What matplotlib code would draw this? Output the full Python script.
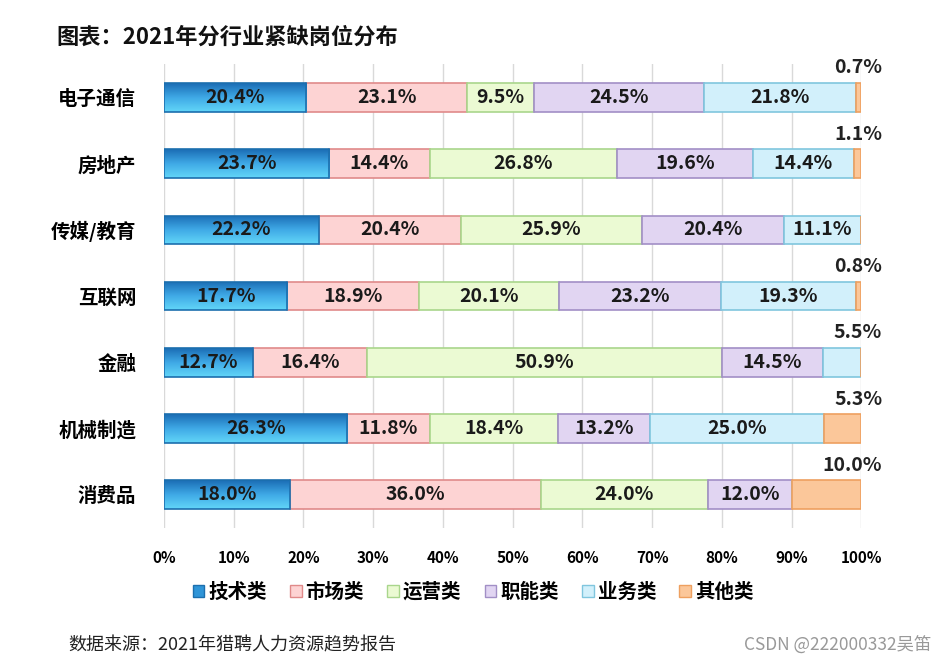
import numpy as np
import matplotlib.pyplot as plt
from matplotlib.patches import Patch
from matplotlib.colors import LinearSegmentedColormap

plt.rcParams['font.family'] = ['Noto Sans CJK SC', 'DejaVu Sans']

industries = ['电子通信', '房地产', '传媒/教育', '互联网', '金融', '机械制造', '消费品']
categories = ['技术类', '市场类', '运营类', '职能类', '业务类', '其他类']
tech = [20.4, 23.7, 22.2, 17.7, 12.7, 26.3, 18.0]
market = [23.1, 14.4, 20.4, 18.9, 16.4, 11.8, 36.0]
ops = [9.5, 26.8, 25.9, 20.1, 50.9, 18.4, 24.0]
func = [24.5, 19.6, 20.4, 23.2, 14.5, 13.2, 12.0]
business = [21.8, 14.4, 11.1, 19.3, 5.5, 25.0, 0.0]
other = [0.7, 1.1, 0.0, 0.8, 0.0, 5.3, 10.0]

series = [tech, market, ops, func, business, other]
fills = ['#3aa6e3', '#fdd3d3', '#ebfad3', '#e1d5f2', '#d2f0fb', '#fbc79a']
edges = ['#1c6fae', '#e08a8a', '#a9d68c', '#a28fc6', '#80c6de', '#eea060']

fig = plt.figure(figsize=(9.46, 6.69), dpi=100)
ax = fig.add_axes([0.1734, 0.211, 0.737, 0.693])

y = np.arange(len(industries))
left = np.zeros(len(industries))
grad = np.linspace(0, 1, 100).reshape(-1, 1)
blue_cmap = LinearSegmentedColormap.from_list('b', ['#1b6db5', '#3fa9e6', '#62d6f8'])

# index of last non-zero segment in each bar
data = np.array(series)
last_idx = [max(k for k in range(len(series)) if data[k, i] > 0) for i in range(len(industries))]

for k, vals in enumerate(series):
    vals = np.array(vals)
    bars = ax.barh(y, vals, left=left, height=0.43, color=fills[k],
                   edgecolor=edges[k], linewidth=1.2, zorder=3)
    if k == 0:
        for b in bars:
            x0, y0, w, h = b.get_x(), b.get_y(), b.get_width(), b.get_height()
            im = ax.imshow(grad, cmap=blue_cmap, aspect='auto',
                           extent=[x0, x0 + w, y0 + h, y0], zorder=3.5)
            im.set_clip_path(b)
            b.set_facecolor('none')
            b.set_zorder(4)
    for i, v in enumerate(vals):
        if v <= 0:
            continue
        if v < 11 and k == last_idx[i]:
            ax.text(103, y[i] - 0.3, f'{v:.1f}%', ha='right', va='bottom',
                    fontsize=14, fontweight='bold', color='#222222', zorder=5)
        else:
            ax.text(left[i] + v / 2, y[i], f'{v:.1f}%', ha='center', va='center',
                    fontsize=14, fontweight='bold', color='#1a1a1a', zorder=5)
    left += vals

ax.set_xlim(0, 100)
ax.set_ylim(len(industries) - 0.5, -0.5)
ax.set_yticks(y)
ax.set_yticklabels(industries, fontsize=14, fontweight='bold')
ax.set_xticks(np.arange(0, 101, 10))
ax.set_xticklabels([f'{t}%' for t in range(0, 101, 10)], fontsize=11, fontweight='bold')
ax.tick_params(axis='y', length=0, pad=20)
ax.tick_params(axis='x', length=0, pad=16)
ax.grid(axis='x', color='#d9d9d9', linewidth=1, zorder=0)
ax.set_axisbelow(True)
for s in ax.spines.values():
    s.set_visible(False)

handles = [Patch(facecolor=('#2f95d8' if k == 0 else fills[k]), edgecolor=edges[k],
                 label=categories[k]) for k in range(6)]
fig.legend(handles=handles, loc='center', bbox_to_anchor=(0.50, 0.115), ncol=6,
           frameon=False, prop={'size': 14, 'weight': 'bold'},
           handlelength=0.6, handleheight=0.6, handletextpad=0.2, columnspacing=1.2)

fig.text(0.06, 0.945, '图表：2021年分行业紧缺岗位分布', fontsize=16, fontweight='bold',
         color='#111111', ha='left', va='center')
fig.text(0.072, 0.035, '数据来源：2021年猎聘人力资源趋势报告', fontsize=13,
         color='#222222', ha='left', va='center')
fig.text(0.985, 0.035, 'CSDN @222000332吴笛', fontsize=12.5, color='#999999',
         ha='right', va='center')

fig.savefig('out.png', dpi=100)
